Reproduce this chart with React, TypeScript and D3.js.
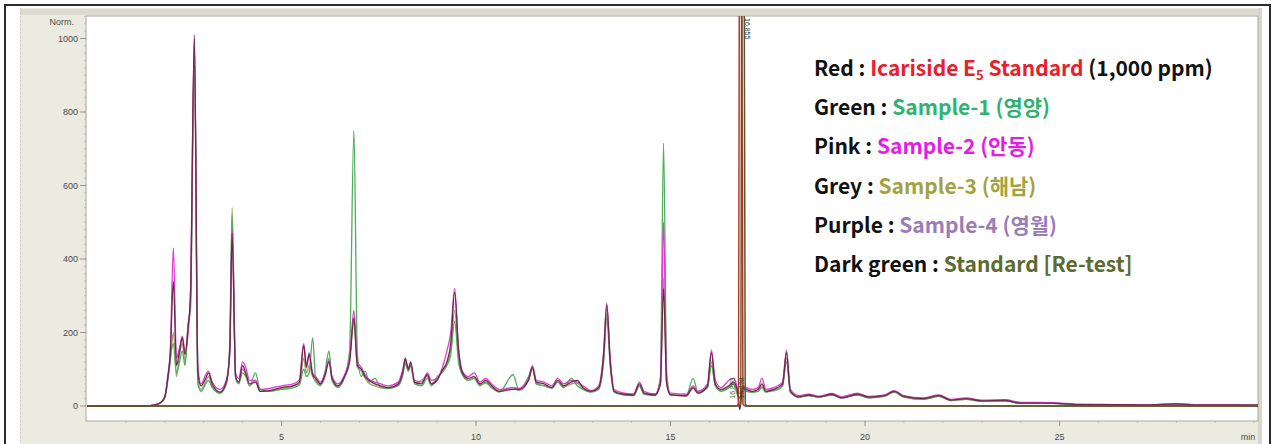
import React, { useMemo } from "react";
import * as d3 from "d3";

// Retention time grid (min) shared by the four sample chromatograms
const retentionTimes = [
  0.0, 1.5, 1.75, 1.9, 2.0, 2.08, 2.14, 2.22, 2.3, 2.38, 2.45, 2.52, 2.6, 2.66, 2.76, 2.85, 2.93,
  3.05, 3.12, 3.22, 3.42, 3.58, 3.67, 3.73, 3.82, 3.9, 4.0, 4.08, 4.18, 4.33, 4.45, 4.7, 5.0, 5.3,
  5.46, 5.57, 5.64, 5.71, 5.8, 5.88, 6.0, 6.12, 6.22, 6.3, 6.45, 6.62, 6.75, 6.86, 6.95, 7.05, 7.15,
  7.25, 7.4, 7.55, 7.75, 8.0, 8.12, 8.18, 8.26, 8.32, 8.42, 8.6, 8.75, 8.85, 9.0, 9.12, 9.25, 9.35,
  9.45, 9.55, 9.65, 9.8, 9.95, 10.1, 10.25, 10.4, 10.6, 10.95, 11.1, 11.35, 11.45, 11.55, 11.75,
  11.95, 12.1, 12.25, 12.45, 12.6, 12.75, 12.95, 13.15, 13.28, 13.36, 13.45, 13.55, 13.8, 14.05,
  14.2, 14.32, 14.6, 14.74, 14.82, 14.9, 15.0, 15.4, 15.58, 15.7, 15.95, 16.05, 16.15, 16.3, 16.5,
  16.62, 16.72, 16.78, 16.85, 16.95, 17.1, 17.25, 17.35, 17.45, 17.65, 17.75, 17.88, 17.98, 18.08,
  18.3, 18.55, 18.8, 19.15, 19.4, 19.8, 20.1, 20.5, 20.75, 21.0, 21.5, 21.9, 22.2, 22.6, 23.0, 23.6,
  24.0, 24.8, 25.5, 26.5, 27.2, 28.0, 28.6, 29.5, 30.1,
];

// Sample-1 (영양), green trace
const sample1Values = [
  0, 0, 3, 9, 22, 70, 130, 170, 90, 120, 150, 110, 225, 260, 960, 60, 40,
  60, 70, 50, 35, 60, 160, 520, 75, 60, 90, 80, 55, 90, 45, 40, 45, 50,
  58, 100, 80, 90, 185, 70, 55, 95, 150, 70, 50, 80, 150, 750, 140, 80, 95,
  65, 75, 50, 48, 55, 85, 115, 95, 110, 60, 55, 75, 55, 80, 90, 110, 140,
  230, 120, 85, 70, 75, 55, 65, 50, 38, 85, 45, 80, 105, 60, 55,
  50, 65, 50, 75, 55, 45, 38, 45, 120, 240, 110, 38, 30, 28,
  55, 32, 30, 80, 715, 90, 30, 28, 75, 40, 50, 110, 55, 40, 50,
  60, 30, 20, 45, 40, 38, 40, 50, 38, 42, 45, 55, 120, 38,
  24, 28, 24, 30, 22, 30, 22, 26, 38, 24, 18, 26, 15, 18, 13, 14,
  7, 7, 3, 3, 2, 5, 2, 2, 2,
];

// Sample-2 (안동), pink trace
const sample2Values = [
  0, 0, 3, 10, 26, 85, 150, 430, 130, 160, 190, 150, 200, 310, 1000, 110, 60,
  85, 95, 65, 45, 70, 140, 480, 90, 75, 120, 105, 70, 70, 45, 48, 55, 60,
  72, 170, 110, 145, 90, 80, 65, 90, 125, 80, 60, 85, 130, 260, 120, 105, 85,
  72, 65, 60, 55, 65, 100, 125, 105, 115, 70, 65, 90, 70, 75, 100, 150, 200,
  320, 160, 95, 80, 90, 65, 75, 60, 45, 50, 48, 75, 110, 70, 65,
  55, 75, 60, 70, 65, 55, 42, 55, 150, 280, 130, 45, 35, 33,
  65, 40, 33, 70, 500, 70, 35, 32, 55, 40, 60, 152, 70, 50, 70,
  75, 45, -5, 55, 50, 45, 50, 75, 45, 50, 55, 65, 152, 45,
  28, 32, 27, 34, 25, 35, 26, 30, 42, 28, 22, 30, 18, 22, 16, 17,
  10, 9, 5, 4, 3, 6, 3, 3, 2,
];

// Sample-3 (해남), grey trace
const sample3Values = [
  0, 0, 3, 9, 24, 75, 120, 200, 80, 140, 170, 120, 220, 280, 990, 70, 45,
  65, 80, 55, 35, 60, 170, 540, 80, 65, 100, 85, 55, 70, 40, 40, 48, 55,
  60, 130, 90, 110, 80, 65, 58, 80, 130, 70, 52, 78, 125, 230, 105, 95, 75,
  62, 55, 50, 48, 58, 90, 120, 95, 110, 62, 70, 80, 60, 75, 95, 115, 150,
  260, 130, 85, 70, 75, 58, 62, 50, 40, 50, 42, 70, 100, 60, 55,
  48, 65, 52, 60, 62, 48, 38, 48, 130, 250, 110, 38, 30, 28,
  55, 32, 28, 60, 350, 60, 30, 26, 48, 35, 50, 120, 55, 42, 50,
  60, 35, 20, 45, 40, 38, 40, 55, 38, 42, 45, 55, 130, 38,
  24, 28, 24, 30, 22, 30, 22, 26, 38, 24, 18, 26, 15, 18, 13, 14,
  7, 7, 3, 3, 2, 5, 2, 2, 2,
];

// Sample-4 (영월), dark purple trace
const sample4Values = [
  0, 0, 3, 10, 25, 80, 140, 340, 110, 150, 185, 140, 215, 300, 1010, 90, 55,
  75, 90, 60, 38, 65, 150, 470, 80, 65, 110, 90, 60, 65, 40, 42, 50, 55,
  65, 165, 105, 140, 85, 75, 60, 85, 120, 75, 55, 80, 120, 240, 110, 100, 80,
  70, 60, 55, 50, 60, 95, 130, 100, 120, 65, 60, 85, 60, 70, 95, 120, 170,
  310, 150, 90, 75, 80, 60, 70, 55, 40, 45, 45, 70, 105, 65, 60,
  50, 70, 55, 65, 70, 50, 40, 50, 140, 275, 120, 40, 32, 30,
  60, 35, 30, 60, 320, 60, 30, 28, 50, 35, 55, 145, 60, 45, 55,
  65, 40, -10, 50, 45, 40, 45, 60, 40, 45, 50, 60, 145, 40,
  25, 30, 25, 32, 22, 32, 24, 28, 40, 26, 20, 28, 16, 20, 14, 15,
  8, 8, 4, 4, 3, 6, 3, 3, 2,
];

// Icariside E5 standard runs: flat baseline with one off-scale peak
const standardTimes = [0, 16.68, 16.74, 16.8, 16.86, 16.92, 16.98, 30.1];
const standardValues = [0, 0, 4, 2600, 6, 0, 0, 0];
const retestTimes = [0, 16.74, 16.8, 16.86, 16.92, 16.98, 17.04, 30.1];
const retestValues = [0, 0, 4, 2600, 6, 0, 0, 0];

// Peak annotations printed next to the standard peak
const peakLabels = ["16.855", "16.803", "16.898"];

const yTicks = [0, 200, 400, 600, 800, 1000];
const xTicks = [5, 10, 15, 20, 25];

type LegendPart = { text: string; color: string; sub?: boolean };
type LegendRow = { name: string; parts: LegendPart[] };
const legendRows: LegendRow[] = [
  {
    name: "Red : ",
    parts: [
      { text: "Icariside E", color: "#e8202c" },
      { text: "5", color: "#e8202c", sub: true },
      { text: " Standard", color: "#e8202c" },
      { text: " (1,000 ppm)", color: "#111" },
    ],
  },
  { name: "Green : ", parts: [{ text: "Sample-1 (영양)", color: "#2fb36e" }] },
  { name: "Pink : ", parts: [{ text: "Sample-2 (안동)", color: "#e21ee4" }] },
  { name: "Grey : ", parts: [{ text: "Sample-3 (해남)", color: "#a3a241" }] },
  { name: "Purple : ", parts: [{ text: "Sample-4 (영월)", color: "#9b7cb9" }] },
  { name: "Dark green : ", parts: [{ text: "Standard [Re-test]", color: "#5c6b2f" }] },
];

const W = 1275;
const H = 444;
const plot = { left: 86, right: 1258, top: 16, bottom: 421 };

export default function App() {
  const x = useMemo(() => d3.scaleLinear().domain([0, 30.1]).range([87, 1258]), []);
  const y = useMemo(() => d3.scaleLinear().domain([0, 1000]).range([406, 38.5]), []);

  const line = d3
    .line<[number, number]>()
    .x((d) => x(d[0]))
    .y((d) => y(d[1]))
    .curve(d3.curveMonotoneX);

  const pair = (ts: number[], vs: number[]) => ts.map((t, i) => [t, vs[i]] as [number, number]);

  const traces = [
    { values: sample3Values, color: "#a09f6c" },
    { values: sample1Values, color: "#4fae5c" },
    { values: sample2Values, color: "#e23ad8" },
    { values: sample4Values, color: "#6c2a46" },
  ];

  const yMinor = d3.range(0, 1061, 20);
  const xMinor = d3.range(1, 31, 1);
  const font = "'Liberation Sans', Arial, sans-serif";
  const legendFont = "'Noto Sans CJK KR', 'Noto Sans', sans-serif";
  const legendSize = 21;
  const stdX = x(16.8);

  return (
    <div style={{ position: "absolute", left: 0, top: 0 }}>
      <svg width={W} height={H} viewBox={`0 0 ${W} ${H}`} style={{ display: "block" }}>
        <defs>
          <clipPath id="plotClip">
            <rect x={plot.left} y={plot.top} width={plot.right - plot.left} height={plot.bottom - plot.top} />
          </clipPath>
        </defs>
        <rect x={0} y={0} width={W} height={H} fill="#fff" />
        {/* instrument window panel */}
        <rect x={20} y={8} width={1242} height={H - 8} fill="#ecebe2" />
        <rect x={20} y={9} width={1242} height={6} fill="#dcdbcf" />
        <line x1={20.5} y1={8} x2={20.5} y2={H} stroke="#c9c8bc" strokeDasharray="2 2" />
        <rect x={1258} y={8} width={4} height={H - 8} fill="#d8d7cc" />
        <path d={`M5,${H} V5 H1270 V${H}`} fill="none" stroke="#2b2b2b" strokeWidth={2} />

        {/* plotting area */}
        <rect
          x={plot.left}
          y={plot.top}
          width={plot.right - plot.left}
          height={plot.bottom - plot.top}
          fill="#fff"
          stroke="#a9a99d"
          strokeWidth={1}
        />

        {/* y axis */}
        {yMinor.map((v) => (
          <line key={`ym${v}`} x1={plot.left - 2} x2={plot.left} y1={y(v)} y2={y(v)} stroke="#b5b5aa" strokeWidth={0.8} />
        ))}
        {yTicks.map((v) => (
          <g key={`yt${v}`}>
            <line x1={plot.left - 6} x2={plot.left} y1={y(v)} y2={y(v)} stroke="#8c8c82" strokeWidth={0.9} />
            <text x={plot.left - 8} y={y(v) + 3} textAnchor="end" fontFamily={font} fontSize={9} fill="#4a4a46">
              {v}
            </text>
          </g>
        ))}
        <text x={plot.left - 12} y={25} textAnchor="end" fontFamily={font} fontSize={9} fill="#4a4a46">
          Norm.
        </text>

        {/* x axis */}
        {xMinor.map((t) => (
          <line key={`xm${t}`} x1={x(t)} x2={x(t)} y1={plot.bottom} y2={plot.bottom + 2} stroke="#b5b5aa" strokeWidth={0.8} />
        ))}
        {xTicks.map((t) => (
          <g key={`xt${t}`}>
            <line x1={x(t)} x2={x(t)} y1={plot.bottom} y2={plot.bottom + 5} stroke="#8c8c82" strokeWidth={0.9} />
            <text x={x(t)} y={440} textAnchor="middle" fontFamily={font} fontSize={9} fill="#4a4a46">
              {t}
            </text>
          </g>
        ))}
        <text x={1248} y={440} textAnchor="middle" fontFamily={font} fontSize={9} fill="#4a4a46">
          min
        </text>

        <g clipPath="url(#plotClip)">
          {traces.map((tr, i) => (
            <path
              key={i}
              d={line(pair(retentionTimes, tr.values)) ?? ""}
              fill="none"
              stroke={tr.color}
              strokeWidth={1.3}
              strokeLinejoin="round"
            />
          ))}
          <path d={line(pair(standardTimes, standardValues)) ?? ""} fill="none" stroke="#b8341f" strokeWidth={1.5} />
          <path d={line(pair(retestTimes, retestValues)) ?? ""} fill="none" stroke="#4f5c33" strokeWidth={1.5} />
        </g>

        {/* retention time annotations */}
        <text
          transform={`translate(${stdX + 4},${plot.top + 2}) rotate(90)`}
          fontFamily={font}
          fontSize={7}
          fill="#333"
        >
          {peakLabels[0]}
        </text>
        <text
          transform={`translate(${stdX - 6},${y(20)}) rotate(-90)`}
          fontFamily={font}
          fontSize={7}
          fill="#3b5a36"
        >
          {peakLabels[1]}
        </text>
        <text
          transform={`translate(${stdX + 3},${y(20)}) rotate(-90)`}
          fontFamily={font}
          fontSize={7}
          fill="#3b3b2a"
        >
          {peakLabels[2]}
        </text>

        {/* colour key */}
        {legendRows.map((row, i) => {
          let shift = 0;
          return (
            <text
              key={row.name}
              x={814}
              y={76 + i * 39.2}
              fontFamily={legendFont}
              fontWeight={700}
              fontSize={legendSize}
              fill="#111"
            >
              <tspan>{row.name}</tspan>
              {row.parts.map((p, j) => {
                const dy = p.sub ? 4 - shift : -shift;
                shift = p.sub ? 4 : 0;
                return (
                  <tspan key={j} fill={p.color} fontSize={p.sub ? 13 : legendSize} dy={dy || undefined}>
                    {p.text}
                  </tspan>
                );
              })}
            </text>
          );
        })}
      </svg>
    </div>
  );
}
